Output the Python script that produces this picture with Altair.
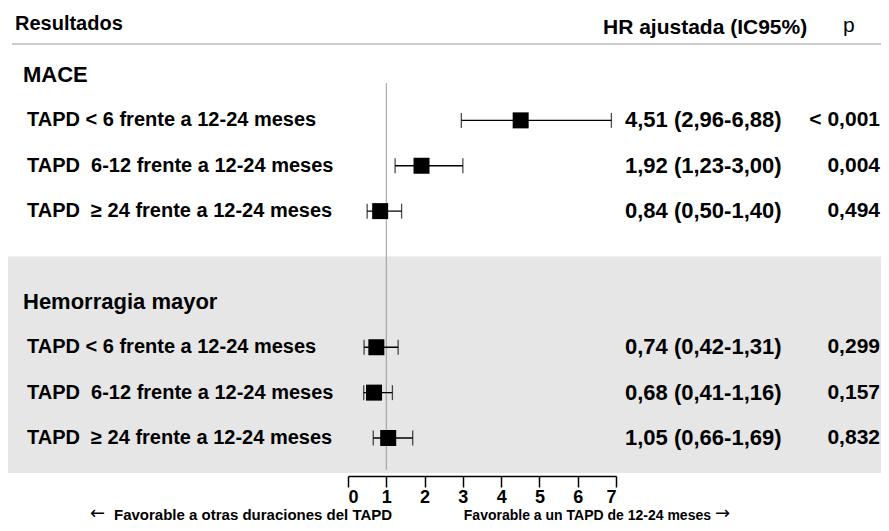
import altair as alt
import pandas as pd

# ---- data ----
row_ids = ["m1", "m2", "m3", "h1", "h2", "h3"]
row_labels = [
    "TAPD < 6 frente a 12-24 meses",
    "TAPD\u00a0 6-12 frente a 12-24 meses",
    "TAPD\u00a0 \u2265 24 frente a 12-24 meses",
    "TAPD < 6 frente a 12-24 meses",
    "TAPD\u00a0 6-12 frente a 12-24 meses",
    "TAPD\u00a0 \u2265 24 frente a 12-24 meses",
]
hr = [4.51, 1.92, 0.84, 0.74, 0.68, 1.05]
lo = [2.96, 1.23, 0.50, 0.42, 0.41, 0.66]
hi = [6.88, 3.00, 1.40, 1.31, 1.16, 1.69]
hr_text = [
    "4,51 (2,96-6,88)",
    "1,92 (1,23-3,00)",
    "0,84 (0,50-1,40)",
    "0,74 (0,42-1,31)",
    "0,68 (0,41-1,16)",
    "1,05 (0,66-1,69)",
]
p_text = ["< 0,001", "0,004", "0,494", "0,299", "0,157", "0,832"]

group_ids = ["MACE", "HEM"]
group_labels = ["MACE", "Hemorragia mayor"]

row_order = ["MACE", "m1", "m2", "m3", "gap", "HEM", "h1", "h2", "h3"]
x_ticks = [0, 1, 2, 3, 4, 5, 6, 7]

df = pd.DataFrame({"rid": row_ids, "label": row_labels, "hr": hr, "lo": lo,
                   "hi": hi, "hrt": hr_text, "p": p_text})
gdf = pd.DataFrame({"rid": group_ids, "label": group_labels})
gapdf = pd.DataFrame({"rid": ["gap"]})
ref = pd.DataFrame({"x": [1]})

FONT = "Liberation Sans"
W, H = 873, 468

yenc = alt.Y("rid:N", scale=alt.Scale(type="point", domain=row_order, range=[67, 430], padding=0),
             axis=None)
xscale = alt.Scale(domain=[0, 7], range=[340, 608])
xaxis = alt.Axis(values=x_ticks, format="d", title=None, grid=False)

base = alt.Chart(df)

band = alt.Chart(gapdf).mark_rect(color="#e6e6e6").encode(
    y=yenc, y2=alt.value(465), x=alt.value(0), x2=alt.value(W))

headline = alt.Chart(gapdf).mark_rule(color="#bbbbbb", strokeWidth=1.5).encode(
    x=alt.value(4), x2=alt.value(W), y=alt.value(36))

refline = alt.Chart(ref).mark_rule(color="#999999", strokeWidth=1).encode(
    x=alt.X("x:Q", scale=xscale, axis=xaxis),
    y=alt.value(75), y2=alt.value(462))

ci = base.mark_rule(color="black", strokeWidth=1.3).encode(
    x=alt.X("lo:Q", scale=xscale, axis=xaxis), x2="hi:Q", y=yenc)
cap_lo = base.mark_tick(color="black", thickness=1.3, size=15).encode(
    x=alt.X("lo:Q", scale=xscale, axis=xaxis), y=yenc)
cap_hi = base.mark_tick(color="black", thickness=1.3, size=15).encode(
    x=alt.X("hi:Q", scale=xscale, axis=xaxis), y=yenc)
sq = base.mark_square(color="black", size=256, opacity=1).encode(
    x=alt.X("hr:Q", scale=xscale, axis=xaxis), y=yenc)

labels = base.mark_text(align="left", baseline="middle", font=FONT, fontSize=20,
                        fontWeight="bold", color="black").encode(
    x=alt.value(19), y=yenc, text="label:N")
glabels = alt.Chart(gdf).mark_text(align="left", baseline="middle", font=FONT, fontSize=22,
                                   fontWeight="bold", color="black").encode(
    x=alt.value(15), y=yenc, text="label:N")
hrlab = base.mark_text(align="left", baseline="middle", font=FONT, fontSize=22,
                       fontWeight="bold", color="black").encode(
    x=alt.value(617), y=yenc, text="hrt:N")
plab = base.mark_text(align="right", baseline="middle", font=FONT, fontSize=21,
                      fontWeight="bold", color="black").encode(
    x=alt.value(872), y=yenc, text="p:N")

h1 = alt.Chart(gapdf).mark_text(align="left", baseline="middle", font=FONT, fontSize=20,
                                fontWeight="bold", color="black", text="Resultados").encode(
    x=alt.value(7), y=alt.value(16))
h2 = alt.Chart(gapdf).mark_text(align="left", baseline="middle", font=FONT, fontSize=21,
                                fontWeight="bold", color="black",
                                text="HR ajustada (IC95%)").encode(
    x=alt.value(595), y=alt.value(20))
h3 = alt.Chart(gapdf).mark_text(align="left", baseline="middle", font=FONT, fontSize=21,
                                color="black", text="p").encode(
    x=alt.value(835), y=alt.value(18))

FY = 512
a1 = alt.Chart(gapdf).mark_text(align="left", baseline="middle", font="DejaVu Sans",
                                fontSize=18, color="black", text="\u2190").encode(
    x=alt.value(82), y=alt.value(506))
f1 = alt.Chart(gapdf).mark_text(align="left", baseline="alphabetic", font=FONT, fontSize=15,
                                fontWeight="bold", color="black",
                                text="Favorable a otras duraciones del TAPD").encode(
    x=alt.value(106), y=alt.value(FY))
f2 = alt.Chart(gapdf).mark_text(align="right", baseline="alphabetic", font=FONT, fontSize=14,
                                fontWeight="bold", color="black",
                                text="Favorable a un TAPD de 12-24 meses").encode(
    x=alt.value(703), y=alt.value(FY))
a2 = alt.Chart(gapdf).mark_text(align="left", baseline="middle", font="DejaVu Sans",
                                fontSize=18, color="black", text="\u2192").encode(
    x=alt.value(707), y=alt.value(506))

chart = alt.layer(band, headline, refline, ci, cap_lo, cap_hi, sq, labels, glabels,
                  hrlab, plab, h1, h2, h3, a1, f1, f2, a2).properties(
    width=W, height=H,
    autosize=alt.AutoSizeParams(type="none"),
    padding={"left": 0, "right": 0, "top": 0, "bottom": 47},
).configure_view(stroke=None).configure_axisX(
    domainColor="black", domainWidth=1.5, tickColor="black",
    tickWidth=1.5, tickSize=11, labelFontSize=18,
    labelFontWeight="bold", labelColor="black", labelPadding=1,
    labelFont=FONT)

chart.save("out.html", embed_options={"renderer": "svg", "actions": False})
